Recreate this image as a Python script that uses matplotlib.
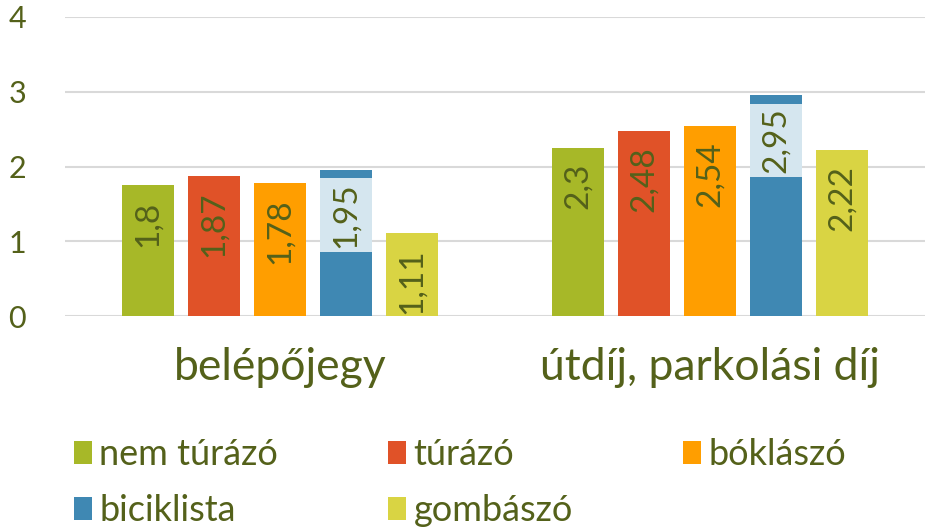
import matplotlib
matplotlib.use("Agg")
import matplotlib.pyplot as plt
from matplotlib.patches import Patch
from matplotlib.path import Path
import numpy as np

plt.rcParams['font.family'] = ['Lato', 'DejaVu Sans']

categories = ["belépőjegy", "útdíj, parkolási díj"]
series = ["nem túrázó", "túrázó", "bóklászó", "biciklista", "gombászó"]
values = {
    "nem túrázó": [1.75, 2.25],
    "túrázó": [1.87, 2.48],
    "bóklászó": [1.78, 2.54],
    "biciklista": [1.95, 2.95],
    "gombászó": [1.11, 2.22],
}
labels = {
    "nem túrázó": ["1,8", "2,3"],
    "túrázó": ["1,87", "2,48"],
    "bóklászó": ["1,78", "2,54"],
    "biciklista": ["1,95", "2,95"],
    "gombászó": ["1,11", "2,22"],
}
colors = ["#A7B828", "#E05228", "#FF9E00", "#3F88B3", "#D9D443"]
yticks = [0, 1, 2, 3, 4]

text_color = "#54611A"
grid_color = "#D9D9D9"


def label_box(x0, y0, width, height, mutation_size):
    # asymmetric padding: small along the text, wide across it
    px = 0.12 * mutation_size
    py = 0.34 * mutation_size
    return Path([(x0 - px, y0 - py), (x0 + width + px, y0 - py),
                 (x0 + width + px, y0 + height + py), (x0 - px, y0 + height + py),
                 (x0 - px, y0 - py)], closed=True)


fig = plt.figure(figsize=(9.27, 5.30), dpi=100)
ax = fig.add_axes([65/927, 214/530, 860/927, 299/530])

x = np.arange(len(categories))
width = 52/430
step = 66/430
for i, (s, c) in enumerate(zip(series, colors)):
    pos = x + (i - 2) * step
    bars = ax.bar(pos, values[s], width=width, color=c, zorder=3)
    for b, lab in zip(bars, labels[s]):
        xc = b.get_x() + b.get_width() / 2
        h = b.get_height()
        if s == "biciklista":
            ax.annotate(lab, (xc, h), xytext=(0, -8.7), textcoords="offset points",
                        rotation=90, ha="center", va="top", fontsize=24,
                        color=text_color, zorder=5,
                        bbox=dict(boxstyle=label_box, fc="#D5E6EF", ec="none"))
        else:
            ax.annotate(lab, (xc, h), xytext=(0, -11), textcoords="offset points",
                        rotation=90, ha="center", va="top", fontsize=24,
                        color=text_color, zorder=5)

ax.set_xlim(-0.5, 1.5)
ax.set_ylim(0, 4)
ax.set_yticks(yticks)
ax.set_yticklabels([str(t) for t in yticks])
ax.set_xticks(x)
ax.set_xticklabels(categories)
ax.tick_params(axis="y", length=0, pad=28, labelsize=22, labelcolor=text_color)
ax.tick_params(axis="x", length=0, pad=22, labelsize=32, labelcolor=text_color)
ax.grid(axis="y", color=grid_color, linewidth=1.5, zorder=0)
for sp in ax.spines.values():
    sp.set_visible(False)

handles = [Patch(facecolor=c, edgecolor="none") for c in colors]
order = [0, 3, 1, 4, 2]
fig.legend([handles[i] for i in order], [series[i] for i in order],
           ncol=3, loc="upper left", bbox_to_anchor=(74/927, 1 - 438/530),
           frameon=False, fontsize=26, labelcolor=text_color,
           handlelength=0.5, handleheight=0.6, handletextpad=0.2,
           columnspacing=3.05, labelspacing=0.65, borderaxespad=0, borderpad=0)

fig.savefig("out.png", dpi=100)
